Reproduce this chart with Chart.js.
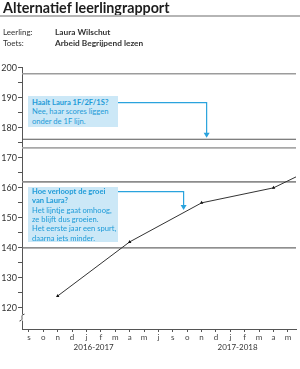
<!DOCTYPE html>
<html><head><meta charset="utf-8">
<script src="https://cdn.jsdelivr.net/npm/chart.js@4/dist/chart.umd.min.js"></script>
<style>
html,body{margin:0;padding:0;background:#fff;}
#wrap{position:relative;width:300px;height:369px;overflow:hidden;font-family:Lato,"Open Sans",sans-serif;}
canvas{position:absolute;left:0;top:0;}
.t{position:absolute;white-space:nowrap;color:#222;z-index:2;}
#title{left:3px;top:-0.5px;font-size:14.3px;line-height:15px;font-weight:700;color:#1d1d1d;}
#rule{position:absolute;left:0;top:15px;width:300px;height:2px;background:#b5b5b5;z-index:2;}
.lab{font-size:8px;line-height:10px;color:#333;}
.val{font-size:8.3px;line-height:10px;font-weight:700;color:#333;}
.box{position:absolute;left:28px;width:86px;background:#cce8f7;color:#1e9bd8;font-size:7.6px;line-height:9.3px;padding-left:4px;z-index:2;white-space:nowrap;}
.box b{font-weight:700;}
.yr{position:absolute;top:342px;font-size:8px;line-height:10px;color:#333;transform:translateX(-50%);white-space:nowrap;z-index:2;}
</style></head>
<body>
<div id="wrap">
<canvas id="c" width="300" height="369"></canvas>
<div id="title" class="t">Alternatief leerlingrapport</div>
<div id="rule"></div>
<div class="t lab" style="left:3px;top:26.7px">Leerling:</div>
<div class="t val" style="left:55px;top:26.7px">Laura Wilschut</div>
<div class="t lab" style="left:3px;top:37.7px">Toets:</div>
<div class="t val" style="left:55px;top:37.7px">Arbeid Begrijpend lezen</div>
<div class="box" id="box1" style="top:96px;height:29px;padding-top:2px"><b>Haalt Laura 1F/2F/1S?</b><br>Nee, haar scores liggen<br>onder de 1F lijn.</div>
<div class="box" id="box2" style="top:186.7px;height:55px;padding-top:0.5px"><b>Hoe verloopt de groei<br>van Laura?</b><br>Het lijntje gaat omhoog,<br>ze blijft dus groeien.<br>Het eerste jaar een spurt,<br>daarna iets minder.</div>
<div class="yr" id="yr0"></div>
<div class="yr" id="yr1"></div>
</div>
<script>
// ---- data ----
const monthLabels = ['s','o','n','d','j','f','m','a','m','j','s','o','n','d','j','f','m','a','m'];
const schoolYears = ['2016-2017','2017-2018'];
const schoolYearCenters = [4.5, 14.5];
const testIndex = [2, 7, 12, 17, 20];
const scores = [124, 142, 155, 160, 167];
const refLevels = [198, 176.2, 173.3, 162, 140];
const yTickValues = [120,125,130,135,140,145,150,155,160,165,170,175,180,185,190,195,200];

// ---- styles ----
const refColors = ['#9c9c9c','#555555','#a8a8a8','#8c8c8c','#6a6a6a'];
const refWidths = [1.6, 1.1, 1.6, 1.6, 1.1];
const X_MIN = -0.48, X_MAX = 18.56, Y_MIN = 113, Y_MAX = 200;
const BLUE = '#2aa3dd';

const refSets = refLevels.map((v, i) => ({
  data: [{x: X_MIN, y: v}, {x: X_MAX, y: v}],
  borderColor: refColors[i], borderWidth: refWidths[i], pointRadius: 0, order: 2
}));

const scoreSet = {
  data: testIndex.map((x, i) => ({x, y: scores[i]})),
  borderColor: '#333', borderWidth: 1, pointStyle: 'triangle', pointRadius: 2,
  pointBackgroundColor: '#111', pointBorderColor: '#111', pointBorderWidth: 0, order: 1
};

const extras = {
  id: 'extras',
  afterDatasetsDraw(chart) {
    const ctx = chart.ctx, xs = chart.scales.x, ys = chart.scales.y;
    ctx.save();
    // connectors
    ctx.strokeStyle = BLUE; ctx.fillStyle = BLUE; ctx.lineWidth = 1.2;
    const conn = (x0, y0, xi, tipY) => {
      const xp = xs.getPixelForValue(xi);
      ctx.beginPath(); ctx.moveTo(x0, y0); ctx.lineTo(xp, y0); ctx.lineTo(xp, tipY - 3); ctx.stroke();
      ctx.beginPath(); ctx.moveTo(xp - 3, tipY - 5); ctx.lineTo(xp + 3, tipY - 5); ctx.lineTo(xp, tipY); ctx.closePath(); ctx.fill();
    };
    conn(118, 102.7, 12.35, ys.getPixelForValue(refLevels[1]) - 1.5);
    // point on the score line at x=10.75
    const xi2 = 10.75;
    const v2 = scores[1] + (scores[2] - scores[1]) * (xi2 - testIndex[1]) / (testIndex[2] - testIndex[1]);
    conn(118, 191.7, xi2, ys.getPixelForValue(v2) - 2.5);
    // axis break
    const bx = chart.chartArea.left, by = ys.getPixelForValue(116.8);
    ctx.fillStyle = '#fff'; ctx.fillRect(bx - 2, by - 3, 4, 6);
    ctx.strokeStyle = '#444'; ctx.lineWidth = 1;
    ctx.beginPath(); ctx.moveTo(bx - 2.5, by + 3.5); ctx.bezierCurveTo(bx + 3, by + 2, bx - 3, by - 2, bx + 2.5, by - 3.5); ctx.stroke();
    ctx.restore();
  }
};

const chart = new Chart(document.getElementById('c'), {
  type: 'line',
  data: {datasets: [...refSets, scoreSet]},
  options: {
    responsive: false, animation: false,
    layout: {padding: {top: 67.7, left: 0, right: 0, bottom: 0}},
    plugins: {legend: {display: false}, tooltip: {enabled: false}},
    scales: {
      x: {
        type: 'linear', min: X_MIN, max: X_MAX,
        afterBuildTicks: s => { s.ticks = monthLabels.map((_, i) => ({value: i})); },
        afterFit: s => { s.height = 40; s.paddingLeft = 0; s.paddingRight = 0; },
        ticks: {callback: v => monthLabels[v], font: {family: 'Lato', size: 8}, color: '#444', padding: 1, maxRotation: 0, autoSkip: false},
        grid: {drawOnChartArea: false, drawTicks: true, tickLength: 3, color: '#555'},
        border: {color: '#555', width: 1}
      },
      y: {
        min: Y_MIN, max: Y_MAX,
        afterBuildTicks: s => { s.ticks = yTickValues.map(v => ({value: v})); },
        afterFit: s => { s.width = 22; s.paddingTop = 0; s.paddingBottom = 0; },
        ticks: {callback: v => (v % 10 === 0 ? v : ''), font: {family: 'Lato', size: 9}, color: '#333', padding: 1, autoSkip: false},
        grid: {drawOnChartArea: false, drawTicks: true, tickLength: 4, color: '#555'},
        border: {color: '#555', width: 1}
      }
    }
  },
  plugins: [extras]
});

schoolYears.forEach((t, i) => {
  const el = document.getElementById('yr' + i);
  el.textContent = t;
  el.style.left = chart.scales.x.getPixelForValue(schoolYearCenters[i]) + 'px';
});
</script>
</body></html>
